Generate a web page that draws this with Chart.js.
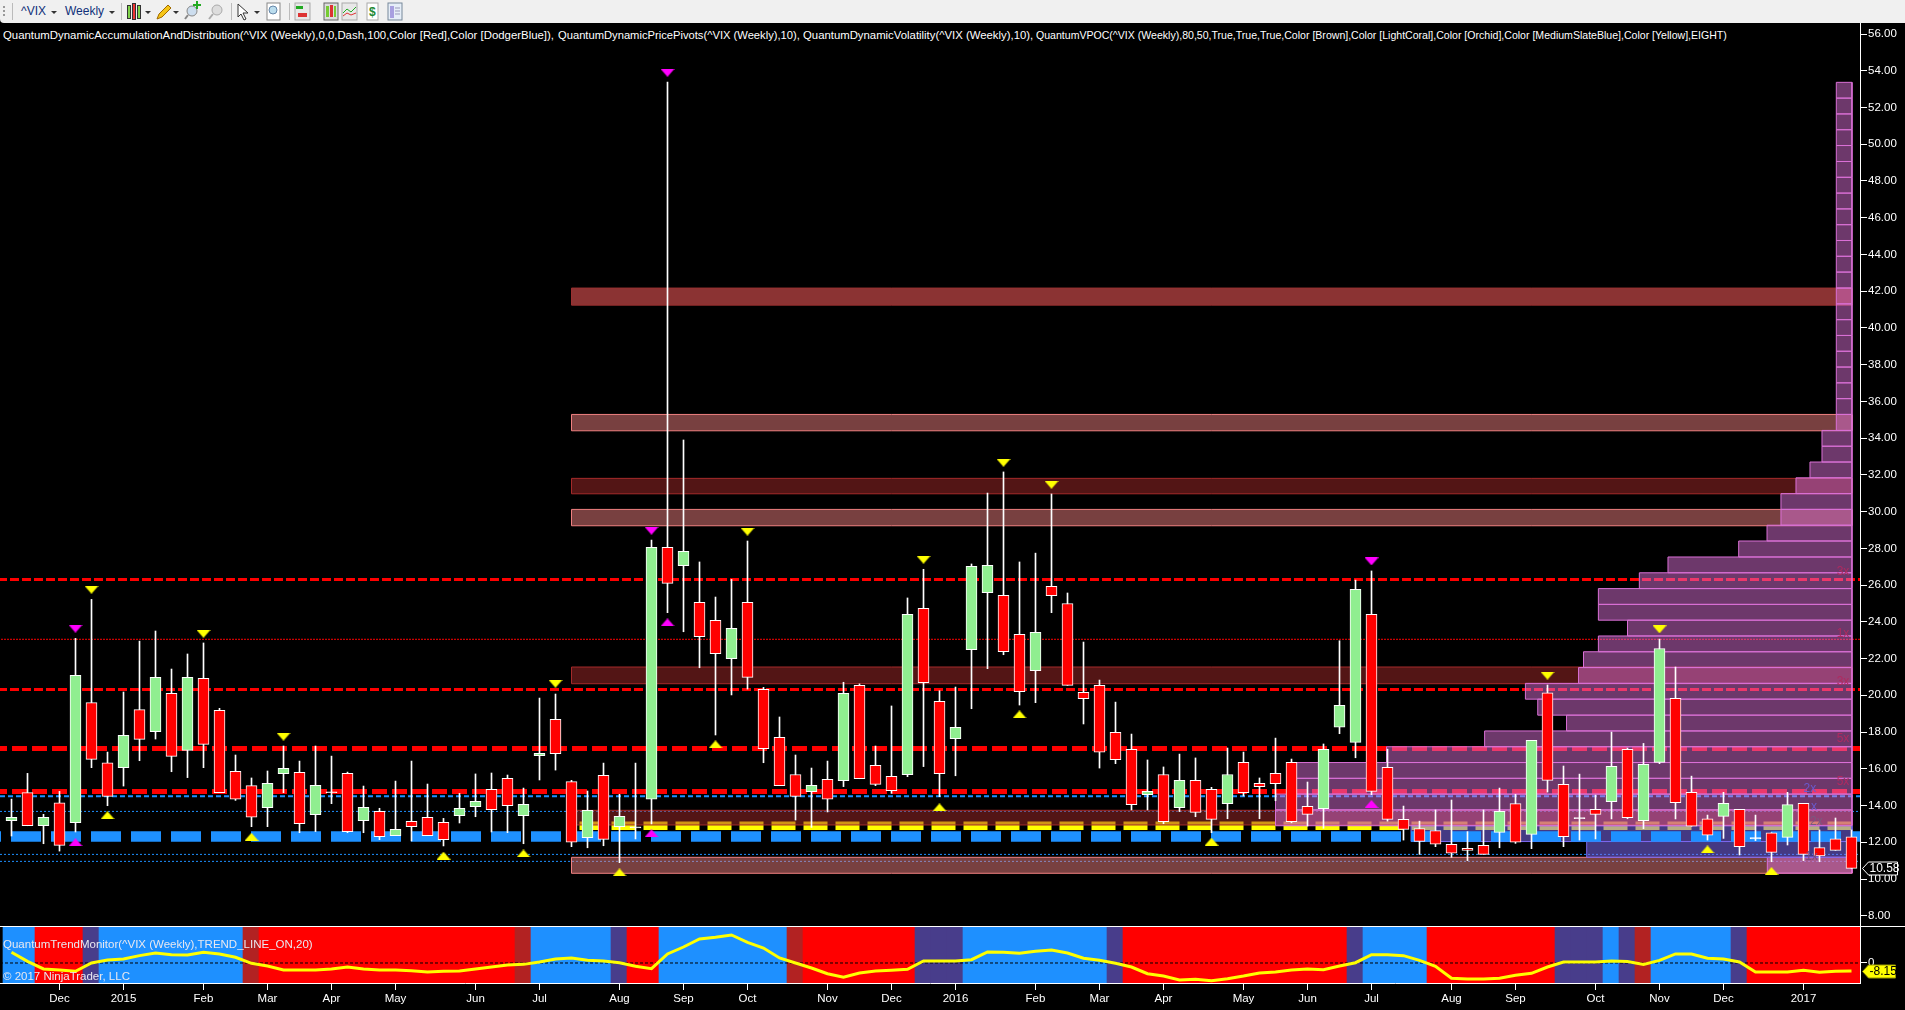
<!DOCTYPE html>
<html><head><meta charset="utf-8">
<style>
html,body{margin:0;padding:0;background:#000;width:1905px;height:1010px;overflow:hidden;font-family:"Liberation Sans",Arial,sans-serif}
canvas{position:absolute;left:0}
#bar{position:absolute;left:0;top:0;width:1905px;height:23px;background:#f0f0f0;border-radius:0 0 0 4px}
#bar span{position:absolute;top:4px;font-size:12px;color:#10307a}
#bar svg{position:absolute;left:0;top:0}
.tt{position:absolute;top:28px;font-size:11px;line-height:14px;color:#fff;white-space:nowrap;transform-origin:0 0}
#tline{position:absolute;left:0;top:926px;width:1905px;height:1px;background:#fff}
.pane{position:absolute;left:3px;font-size:11.5px;color:#e8e8f0;white-space:nowrap;transform-origin:0 0}
</style>
<script src="https://cdn.jsdelivr.net/npm/chart.js@4"></script>
</head><body>
<div id="bar">
<span style="left:21px">^VIX</span><span style="left:65px">Weekly</span>
<svg width="420" height="23">
<g fill="#999"><rect x="3" y="6" width="2" height="2"/><rect x="3" y="10" width="2" height="2"/><rect x="3" y="14" width="2" height="2"/></g>
<g stroke="#bbb"><line x1="12.5" y1="3" x2="12.5" y2="20"/><line x1="121.5" y1="3" x2="121.5" y2="20"/><line x1="231.5" y1="3" x2="231.5" y2="20"/><line x1="289.5" y1="3" x2="289.5" y2="20"/></g>
<g fill="#333"><path d="M51 11h6l-3 3z"/><path d="M109 11h6l-3 3z"/><path d="M145 11h6l-3 3z"/><path d="M173 11h6l-3 3z"/><path d="M254 11h6l-3 3z"/></g>
<g stroke="#333"><rect x="127.500" y="5.500" width="3" height="13" fill="#7fd34a"/><rect x="132.500" y="3.500" width="3" height="16" fill="#e33"/><rect x="137.500" y="5.500" width="3" height="13" fill="#7fd34a"/></g>
<path d="M157 19l2-5 9-9 3 3-9 9z" fill="#f5c518" stroke="#a06a00"/>
<circle cx="192" cy="11" r="5" fill="#cde" stroke="#888"/><path d="M188 15l-3 4" stroke="#888" stroke-width="2"/><path d="M196 1h2v3h3v2h-3v3h-2V6h-3V4h3z" fill="#2a2"/>
<circle cx="217" cy="10" r="5" fill="#ddd" stroke="#aaa"/><path d="M213 14l-4 5" stroke="#aaa" stroke-width="2"/>
<path d="M238 4l10 9h-5l3 6-2 1-3-6-3 3z" fill="#fff" stroke="#333"/>
<rect x="267" y="3" width="13" height="17" fill="#fff" stroke="#888"/><circle cx="273" cy="10" r="4" fill="#bde" stroke="#68a"/>
<rect x="295" y="3" width="15" height="17" fill="#e8e8e8" stroke="#aaa"/><rect x="296" y="6" width="7" height="3" fill="#2a2"/><rect x="298" y="13" width="9" height="4" fill="#d33"/>
<rect x="324" y="3" width="14" height="17" fill="#ddd" stroke="#666"/><rect x="326" y="6" width="3" height="11" fill="#7c3"/><rect x="330" y="5" width="3" height="12" fill="#d33"/><rect x="334" y="6" width="2" height="11" fill="#7c3"/>
<rect x="342" y="3" width="15" height="17" fill="#e8e8e8" stroke="#aaa"/><path d="M343 13l4-4 4 3 5-5" fill="none" stroke="#2a2"/><path d="M343 16l4-3 4 2 5-2" fill="none" stroke="#d33"/>
<rect x="367" y="3" width="11" height="17" fill="#fff" stroke="#aaa"/><text x="369" y="16" font-size="12" font-weight="bold" fill="#283">$</text>
<rect x="388" y="3" width="14" height="17" fill="#e6eef8" stroke="#789"/><rect x="390" y="6" width="4" height="12" fill="#a8a0e0"/><g stroke="#99b"><line x1="395" y1="8" x2="400" y2="8"/><line x1="395" y1="11" x2="400" y2="11"/><line x1="395" y1="14" x2="400" y2="14"/></g>
</svg>
</div>
<div id="titles"></div>
<canvas id="price" width="1905" height="904" style="top:23px"></canvas>
<canvas id="trend" width="1905" height="83" style="top:927px"></canvas>
<div id="tline"></div>
<div class="pane" style="top:938px">QuantumTrendMonitor(^VIX (Weekly),TREND_LINE_ON,20)</div>
<div class="pane" style="top:970px">© 2017 NinjaTrader, LLC</div>
<script>
const openP=[13.18,14.70,12.90,14.15,13.07,19.60,16.33,16.06,19.22,18.02,
20.11,17.00,20.92,19.18,15.86,15.08,13.88,15.73,15.81,13.50,
14.70,15.75,13.18,13.68,12.36,13.14,13.36,13.08,13.45,13.94,
14.88,15.48,13.45,16.71,18.69,15.30,12.25,15.64,12.85,12.78,
14.34,28.05,27.06,25.06,24.08,22.00,25.06,20.32,17.71,15.69,
14.75,15.42,15.35,20.54,16.19,15.59,15.68,24.73,19.67,17.64,
22.48,25.59,25.44,23.32,21.34,25.93,25.00,20.16,20.54,17.98,
17.06,14.59,15.69,13.88,15.37,14.88,14.10,16.35,15.21,15.75,
16.35,13.95,13.83,18.26,17.44,24.41,16.08,13.25,12.74,12.63,
11.89,11.67,11.83,12.54,14.10,12.43,20.14,15.15,13.28,13.79,
14.21,17.06,13.17,16.35,19.83,14.72,13.28,13.41,13.79,12.18,
12.52,12.27,14.12,11.71,12.19,12.30];
const highP=[14.35,15.75,13.52,14.77,23.10,25.22,16.91,20.18,22.95,23.50,
21.43,22.25,22.85,19.29,16.75,15.50,15.88,17.24,16.42,17.24,
16.69,15.82,15.06,13.85,15.33,16.42,15.17,13.30,14.66,15.72,
15.77,15.66,14.95,19.85,20.07,15.37,14.79,16.31,14.61,16.31,
28.45,53.39,33.90,27.26,25.35,26.31,28.40,20.43,18.82,16.75,
16.04,16.42,20.71,20.62,17.24,19.42,25.30,26.86,20.25,20.45,
27.15,31.01,32.16,27.26,27.74,30.96,25.57,22.90,20.83,19.63,
17.89,16.48,16.10,16.80,16.59,14.99,17.13,16.91,15.50,17.67,
16.53,15.28,17.35,22.97,26.27,26.77,17.07,13.97,13.15,13.76,
14.30,12.58,13.76,14.95,14.61,17.55,20.56,16.15,15.71,14.57,
18.00,17.13,17.38,23.06,21.54,15.60,13.48,14.72,13.79,13.48,
12.52,14.72,14.12,12.67,13.32,12.67];
const lowP=[12.34,12.90,11.92,11.52,12.56,16.06,13.99,15.06,16.44,17.62,
15.84,15.52,16.06,14.70,14.28,12.85,12.85,14.70,12.52,12.58,
14.10,12.52,12.52,12.14,12.36,12.07,12.36,11.80,13.05,13.39,
12.56,12.52,11.92,15.39,15.93,11.76,11.70,11.81,10.89,12.18,
13.00,24.50,23.46,21.50,17.84,20.02,20.34,16.33,15.08,13.21,
12.81,13.65,15.03,15.46,15.08,14.66,15.57,16.12,14.48,15.62,
19.27,21.45,22.21,19.47,19.60,24.50,20.54,18.44,16.04,16.28,
13.76,13.76,13.01,13.67,13.39,12.52,13.28,14.52,13.28,14.26,
13.06,12.88,12.76,17.91,16.60,14.59,13.15,12.12,11.34,11.76,
11.18,11.00,11.34,11.70,11.94,11.65,14.73,11.76,12.12,12.18,
13.27,13.28,12.74,16.28,13.27,12.87,12.12,12.21,11.31,12.09,
10.94,11.85,11.00,10.94,11.56,10.58];
const closeP=[13.36,12.90,13.36,11.83,21.09,16.51,14.50,17.82,17.60,20.98,
16.68,20.98,17.33,14.70,14.34,13.36,15.21,16.02,13.01,15.10,
14.75,12.58,13.90,12.30,12.70,12.85,12.36,12.14,13.85,14.23,
13.77,13.99,14.06,16.84,16.82,12.00,13.74,12.16,13.41,12.84,
28.05,26.09,27.84,23.19,22.27,23.64,20.98,17.09,15.08,14.50,
15.10,14.34,20.11,15.46,15.15,14.81,24.41,20.69,15.73,18.26,
27.02,27.07,22.38,20.20,23.43,25.42,20.54,19.82,16.90,16.50,
14.05,14.77,13.12,15.37,13.63,13.25,15.69,14.70,15.03,15.19,
13.12,13.52,17.06,19.45,25.77,14.77,13.25,12.70,12.05,11.89,
11.40,11.56,11.34,13.68,12.01,17.55,15.37,12.30,13.34,13.52,
16.13,13.34,16.24,22.55,14.15,12.87,12.38,14.12,11.76,12.25,
11.45,14.05,11.34,11.25,11.56,10.58];
const trendValues=[10.9,1.7,-6.1,-7.1,-8.5,0,3.1,4.1,7.5,10.2,
8.5,8.2,10.9,9.2,5.8,-0.3,-3.1,-7.1,-7.1,-7.1,
-6.1,-4.1,-6.1,-7.1,-7.1,-7.8,-9.2,-8.5,-8.2,-6.1,
-4.1,-2.0,-1.4,1.0,4.1,5.1,2.7,2.0,0.3,-3.4,
-5.8,9.2,16.3,24.5,26.2,28.6,21.1,15.3,5.1,0,
-5.1,-10.9,-14.6,-10.2,-8.2,-7.5,-6.5,2,2,2,
3.4,11.2,10.9,9.9,11.9,13.3,10.2,4.8,2.7,-0.3,
-4.1,-10.9,-13.3,-17.3,-16.7,-18,-16,-13.3,-10.2,-9.2,
-7.1,-6.1,-6.8,-3.1,0.3,8.5,8.5,7.5,2.7,-3.4,
-15.6,-16.3,-16.3,-15.6,-12.6,-10.5,-4.1,1,1,1,
2,1.4,-1.4,2.7,9.2,9.2,4.8,4.1,1,-9.2,
-9.2,-9.2,-7.5,-9.5,-8.5,-8.15];
const trendState=("BB RRR S BBBBBBBBB F RRRRRRRRRRRRRRRR F BBBBB S RR BBBBBBBB F RRRRRRR SSS BBBBBBBBB S "+
"RRRRRRRRRRRRRR S BBBB RRRRRRRR SSS B S F BBBBB S RRRRRRR").replace(/ /g,"").split("");
const stateColors={B:"#1E90FF",R:"#FF0000",S:"#483D8B",F:"#B22222"};
const monthBars=[3,7,12,16,20,24,29,33,38,42,46,51,55,59,64,68,72,77,81,85,90,94,99,103,107,112];
const monthLabels=["Dec","2015","Feb","Mar","Apr","May","Jun","Jul","Aug","Sep","Oct","Nov","Dec","2016","Feb","Mar","Apr","May","Jun","Jul","Aug","Sep","Oct","Nov","Dec","2017"];
const priceTicks=[8,10,12,14,16,18,20,22,24,26,28,30,32,34,36,38,40,42,44,46,48,50,52,54,56];
const trendTicks=[0];
const titleParts=["QuantumDynamicAccumulationAndDistribution(^VIX (Weekly),0,0,Dash,100,Color [Red],Color [DodgerBlue]),","QuantumDynamicPricePivots(^VIX (Weekly),10),","QuantumDynamicVolatility(^VIX (Weekly),10),","QuantumVPOC(^VIX (Weekly),80,50,True,True,True,Color [Brown],Color [LightCoral],Color [Orchid],Color [MediumSlateBlue],Color [Yellow],EIGHT)"];
const titleLeft=[3,558,803,1036];
const titleRight=[554,800,1033,1727];
const yellowDownBars=[5,12,17,34,46,57,62,65,96,103];
const yellowDownVals=[25.75,23.35,17.75,20.63,28.91,27.38,32.66,31.46,21.07,23.59];
const yellowUpBars=[6,15,27,32,38,44,58,63,75,106,110];
const yellowUpVals=[13.47,12.30,11.27,11.39,10.36,17.33,13.90,18.96,12.03,11.61,10.43];
const magentaDownBars=[4,40,41,85];
const magentaDownVals=[23.63,28.96,53.89,27.29];
const magentaUpBars=[4,40,41,85];
const magentaUpVals=[12.00,12.49,23.97,14.08];
const zoneHigh=[42.17,35.29,31.81,30.12,21.54,13.74,11.18];
const zoneLow=[41.24,34.40,30.97,29.23,20.63,12.94,10.31];
const zoneFill=["rgba(150,55,55,.93)","rgba(240,128,128,.5)","rgba(165,42,42,.5)","rgba(240,128,128,.5)","rgba(165,42,42,.5)","rgba(165,42,42,.5)","rgba(240,128,128,.5)"];
const zoneEdge=["#9a3030","#F08080","#a52a2a","#F08080","#a52a2a","#a52a2a","#F08080"];
const zoneStartBar=35, profileRightBar=115.03;
const profileEdges=[53.37,52.51,51.65,50.79,49.93,49.06,48.20,47.34,46.48,45.62,44.76,43.90,43.04,42.17,41.31,40.45,39.59,38.73,37.87,37.01,36.15,35.29,34.42,33.56,32.70,31.84,30.98,30.12,29.26,28.40,27.53,26.67,25.81,24.95,24.09,23.23,22.37,21.51,20.65,19.79,18.92,18.06,17.20,16.34,15.48,14.62,13.76,12.90,12.04,11.18,10.32];
const profileWidths=[.98,.98,.98,.98,.98,.98,.98,.98,.98,.98,.98,.98,.98,.98,.98,.98,.98,.98,.98,.98,.98,.98,1.875,1.875,2.625,3.5,4.44,4.44,5.31,7.08,11.5,13.29,15.85,15.85,14.03,15.85,16.78,17.09,20.41,19.64,17.84,22.96,29.09,34.71,34.71,36.03,36.03,27.56,16.58,5.29];
const profileSlateRows=[47,48];
const redLevels=[26.31,23.05,20.32,17.11,14.77];
const redWidths=[3,1,3,5,5];
const redDashes=[[9,3],[2,1],[9,3],[15,5],[15,5]];
const blueThin=[14.50,13.68,11.34,10.96];
const blueThinWidths=[2,1,1,1];
const blueThinDashes=[[5,3],[2,2],[2,2],[2,2]];
const blueBandLevel=12.31, yellowBandLevel=12.90, yellowStartBar=35.5;
const volLabelText=["3x","1x","3x","5x","5x","2x","x","2x","1x"];
const volLabelBar=[114.47,114.47,114.47,114.47,114.47,112.4,112.65,112.8,112.5];
const volLabelVal=[26.71,23.34,20.72,17.62,15.28,14.9,13.92,13.1,11.2];
const volLabelColor=["#b02a60","#b02a60","#b02a60","#b02a60","#b02a60","#6a5acd","#6a5acd","#7a5a80","#7a4a80"];

const FONT='"Liberation Sans",Arial,sans-serif';
const xMin=-0.71875,xMax=115.53125;
Chart.defaults.font.family=FONT;
const holder=document.getElementById("titles");
titleParts.forEach((t,i)=>{
  const d=document.createElement("div");d.className="tt";d.textContent=t;d.style.left=titleLeft[i]+"px";holder.appendChild(d);
  d.style.transform="scaleX("+((titleRight[i]-titleLeft[i])/d.offsetWidth)+")";
});
const zeroPad=s=>{s.paddingLeft=s.paddingRight=s.paddingTop=s.paddingBottom=0;};
function tri(color,up){
  const c=document.createElement("canvas");c.width=14;c.height=8;
  const g=c.getContext("2d");g.fillStyle=color;
  g.beginPath();
  if(up){g.moveTo(7,0);g.lineTo(14,8);g.lineTo(0,8);}else{g.moveTo(0,0);g.lineTo(14,0);g.lineTo(7,8);}
  g.closePath();g.fill();return c;
}
function markers(bars,vals,color,up){
  return {type:"scatter",order:0,data:bars.map((b,i)=>({x:b,y:vals[i]})),pointStyle:tri(color,up),pointRadius:7,showLine:false};
}
function hline(val,color,width,dash,offset,order,from,to){
  return {type:"line",order,data:[{x:from,y:val},{x:to,y:val}],borderColor:color,borderWidth:width,borderDash:dash,borderDashOffset:offset,pointRadius:0,fill:false,tension:0};
}
function rect(x0,x1,hi,lo,fill,edge,order){
  return {type:"line",order,data:[{x:x0,y:hi},{x:x1,y:hi},{x:x1,y:lo},{x:x0,y:lo},{x:x0,y:hi}],borderColor:edge,borderWidth:1,backgroundColor:fill,fill:"shape",pointRadius:0,tension:0};
}
const ds=[];
ds.push({type:"bar",order:2,grouped:false,barThickness:1,backgroundColor:"#fff",data:highP.map((h,i)=>({x:i,y:[lowP[i],h]}))});
const isDoji=i=>Math.abs(closeP[i]-openP[i])<0.08;
const bodyColor=i=>isDoji(i)?"#fff":(closeP[i]>openP[i]?"#90EE90":"#FF0000");
ds.push({type:"bar",order:1,grouped:false,barThickness:11,borderWidth:1,borderColor:"#fff",borderSkipped:false,
  backgroundColor:closeP.map((c,i)=>bodyColor(i)),
  data:closeP.map((c,i)=>({x:i,y:[openP[i],c]}))});
ds.push(markers(yellowDownBars,yellowDownVals,"#FFFF00",false));
ds.push(markers(yellowUpBars,yellowUpVals,"#FFFF00",true));
ds.push(markers(magentaDownBars,magentaDownVals,"#FF00FF",false));
ds.push(markers(magentaUpBars,magentaUpVals,"#FF00FF",true));
ds.push(hline(blueBandLevel,"#1E90FF",10.5,[30,10],29,3,xMin,xMax));
profileWidths.forEach((w,k)=>{
  const slate=profileSlateRows.includes(k);
  ds.push(rect(profileRightBar-w,profileRightBar,profileEdges[k],profileEdges[k+1],
    slate?"rgba(123,104,238,.55)":"rgba(218,112,214,.5)",slate?"#7B68EE":"#DA70D6",4));
});
zoneHigh.forEach((h,i)=>ds.push(rect(zoneStartBar,profileRightBar,h,zoneLow[i],zoneFill[i],zoneEdge[i],5)));
ds.push(hline(yellowBandLevel,"#FFFF00",8.5,[24,8],0,6,yellowStartBar,profileRightBar));
redLevels.forEach((v,i)=>ds.push(hline(v,"#FF0000",redWidths[i],redDashes[i],i>2?8:2,7,xMin,xMax)));
blueThin.forEach((v,i)=>ds.push(hline(v,"#1E90FF",blueThinWidths[i],blueThinDashes[i],0,7,xMin,xMax)));

function tag(ctx,x,y,w,h,text,fill,stroke,color){
  ctx.save();ctx.beginPath();ctx.moveTo(x,y);ctx.lineTo(x+6,y-h/2);ctx.lineTo(x+w,y-h/2);ctx.lineTo(x+w,y+h/2);ctx.lineTo(x+6,y+h/2);ctx.closePath();
  ctx.fillStyle=fill;ctx.strokeStyle=stroke;ctx.fill();ctx.stroke();
  ctx.fillStyle=color;ctx.font="12px "+FONT;ctx.textBaseline="middle";ctx.textAlign="left";ctx.fillText(text,x+7,y+.5);ctx.restore();
}
const pricePlugin={id:"pricePlugin",afterDatasetsDraw(ch){
  const c=ch.ctx;c.save();c.font="12px "+FONT;c.textAlign="center";c.textBaseline="middle";
  volLabelText.forEach((t,i)=>{c.fillStyle=volLabelColor[i];c.fillText(t,ch.scales.x.getPixelForValue(volLabelBar[i]),ch.scales.y.getPixelForValue(volLabelVal[i]));});
  c.restore();
},afterDraw(ch){
  const last=closeP.length-1;
  tag(ch.ctx,1862.5,Math.round(ch.scales.y.getPixelForValue(closeP[last]))+.5,35,13,closeP[last].toFixed(2),"#000","#fff","#fff");
}};
new Chart(document.getElementById("price"),{type:"bar",data:{datasets:ds},plugins:[pricePlugin],options:{
  responsive:false,animation:false,devicePixelRatio:1,maintainAspectRatio:false,
  layout:{padding:0,autoPadding:false},plugins:{legend:{display:false},tooltip:{enabled:false},title:{display:false}},
  scales:{
    x:{type:"linear",display:false,min:xMin,max:xMax,offset:false,grid:{offset:false}},
    y:{type:"linear",position:"right",min:7.387,max:56.6,
      afterBuildTicks:s=>{s.ticks=priceTicks.map(v=>({value:v}));},
      afterFit:s=>{s.width=45;zeroPad(s);},
      grid:{drawOnChartArea:false,drawTicks:true,tickLength:7,color:"#fff"},
      border:{display:true,color:"#fff"},
      ticks:{color:"#fff",font:{size:11.5,family:FONT},padding:1,autoSkip:false,callback:v=>Number(v).toFixed(2)}}
  }}});

const trendPlugin={id:"trendPlugin",afterDraw(ch){
  const last=trendValues.length-1;
  tag(ch.ctx,1862.5,Math.round(ch.scales.y.getPixelForValue(trendValues[last]))+.5,33,13,trendValues[last].toFixed(2),"#FFFF00","#999900","#000");
}};
const zeroLine=[{x:xMin,y:0},{x:xMax,y:0}];
new Chart(document.getElementById("trend"),{type:"bar",data:{datasets:[
  {type:"line",order:0,data:trendValues.map((v,i)=>({x:i,y:v})),borderColor:"#FFFF00",borderWidth:3,pointRadius:0,tension:0,fill:false},
  {type:"line",order:1,data:zeroLine,borderColor:"#000",borderWidth:1,borderDash:[3,2],pointRadius:0,fill:false},
  {type:"bar",order:2,grouped:false,barThickness:17,backgroundColor:trendState.map(s=>stateColors[s]),data:trendState.map((s,i)=>({x:i,y:[-21,37]}))}
]},plugins:[trendPlugin],options:{
  responsive:false,animation:false,devicePixelRatio:1,maintainAspectRatio:false,
  layout:{padding:0,autoPadding:false},plugins:{legend:{display:false},tooltip:{enabled:false}},
  scales:{
    x:{type:"linear",min:xMin,max:xMax,offset:false,position:"bottom",
      afterBuildTicks:s=>{s.ticks=monthBars.map(v=>({value:v}));},
      afterFit:s=>{s.height=27;zeroPad(s);},
      grid:{offset:false,drawOnChartArea:false,drawTicks:true,tickLength:7,color:"#fff"},
      border:{display:true,color:"#fff",width:1},
      ticks:{color:"#fff",font:{size:11.5,family:FONT},padding:2,autoSkip:false,maxRotation:0,
        callback:v=>monthLabels[monthBars.indexOf(v)]}},
    y:{type:"linear",position:"right",min:-20.4,max:36.7,
      afterBuildTicks:s=>{s.ticks=trendTicks.map(v=>({value:v}));},
      afterFit:s=>{s.width=45;zeroPad(s);},
      grid:{drawOnChartArea:false,drawTicks:true,tickLength:7,color:"#fff"},
      border:{display:true,color:"#fff"},
      ticks:{color:"#fff",font:{size:11.5,family:FONT},padding:1,callback:v=>String(v)}}
  }}});
</script>
</body></html>
